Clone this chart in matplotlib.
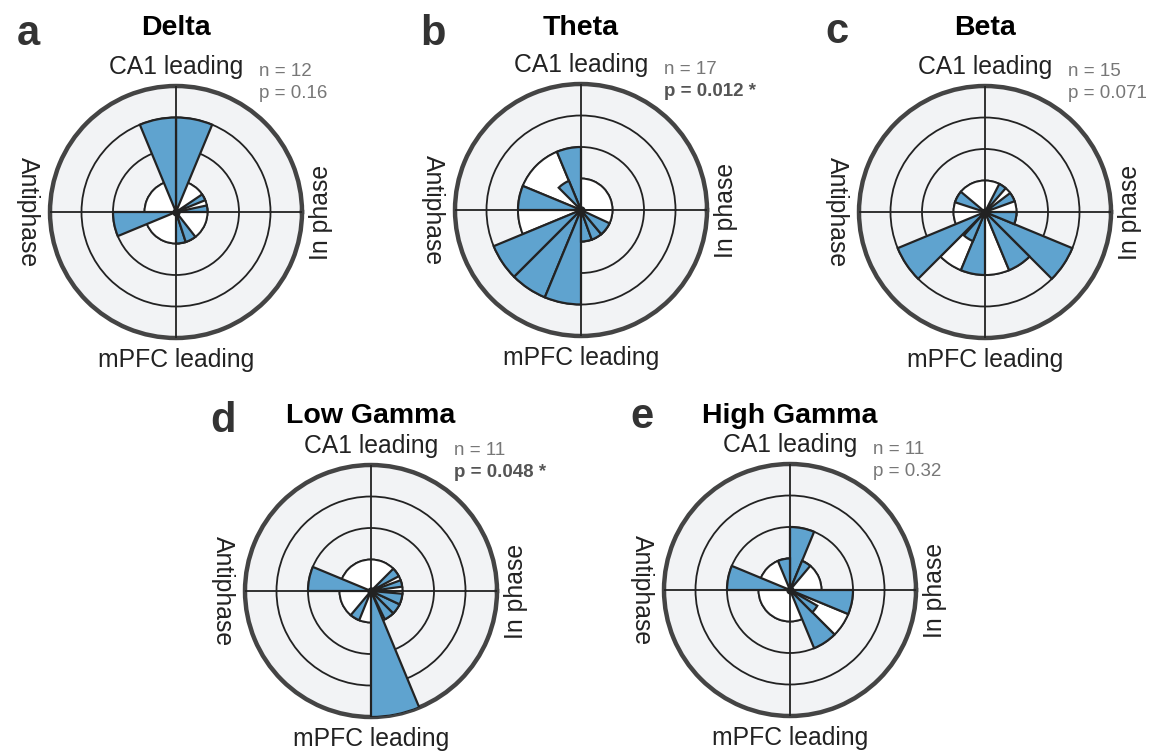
import numpy as np
import matplotlib.pyplot as plt

plt.rcParams['font.family'] = ['Liberation Sans', 'DejaVu Sans']

# ---- data: phase bins (degrees, start/end) and counts ----
panel_names = ['Delta', 'Theta', 'Beta', 'Low Gamma', 'High Gamma']
panel_letters = ['a', 'b', 'c', 'd', 'e']
n_values = [12, 17, 15, 11, 11]
p_values = ['0.16', '0.012', '0.071', '0.048', '0.32']
p_significant = [False, True, False, True, False]

delta_start = [67.5, 90, 180, 0, 22, 270, 288]
delta_end = [90, 112.5, 202.5, 12, 34, 288, 308]
delta_count = [3, 3, 2, 1, 1, 1, 1]
delta_white = [(0, 360, 1)]

theta_start = [202.5, 225, 247.5, 157.5, 90, 112.5, 270, 290, 310]
theta_end = [225, 247.5, 270, 180, 112.5, 135, 290, 310, 335]
theta_count = [3, 3, 3, 2, 2, 1, 1, 1, 1]
theta_white = [(0, 360, 1), (112.5, 157.5, 2), (180, 202.5, 2)]

beta_start = [202.5, 315, 247.5, 292.5, 228, 337.5, 20, 49, 140]
beta_end = [225, 337.5, 270, 315, 247.5, 360, 37, 63, 162]
beta_count = [3, 3, 2, 2, 1, 1, 1, 1, 1]
beta_white = [(0, 360, 1), (225, 247.5, 2), (270, 292.5, 2)]

lowgamma_start = [270, 157.5, 230, 8, 28, 296, 315, 335]
lowgamma_end = [292.5, 180, 248, 20, 45, 315, 335, 355]
lowgamma_count = [4, 2, 1, 1, 1, 1, 1, 1]
lowgamma_white = [(0, 360, 1)]

highgamma_start = [157.5, 67.5, 337.5, 292.5, 90, 50, 315]
highgamma_end = [180, 90, 360, 315, 112.5, 67.5, 330]
highgamma_count = [2, 2, 2, 2, 1, 1, 1]
highgamma_white = [(0, 360, 1), (315, 337.5, 2)]

blue_bins = [
    (delta_start, delta_end, delta_count),
    (theta_start, theta_end, theta_count),
    (beta_start, beta_end, beta_count),
    (lowgamma_start, lowgamma_end, lowgamma_count),
    (highgamma_start, highgamma_end, highgamma_count),
]
white_bins = [delta_white, theta_white, beta_white, lowgamma_white, highgamma_white]

# ---- layout (pixels) ----
W, H = 1153, 755
centers = [(176, 212), (581, 210), (985, 212), (371, 591), (790, 590)]
title_base = [35, 35, 35, 423, 423]
letter_base = [45, 45, 43, 432, 428]
R = 126

BLUE = '#5fa3cf'
EDGE = '#232323'
BG = '#f2f3f5'

fig = plt.figure(figsize=(W / 100, H / 100), dpi=100)


def fx(x):
    return x / W


def fy(y):
    return 1 - y / H


for i in range(5):
    cx, cy = centers[i]
    ax = fig.add_axes([fx(cx - R), fy(cy + R), 2 * R / W, 2 * R / H], projection='polar')
    ax.set_facecolor(BG)
    ax.set_ylim(0, 4)
    ax.set_rgrids([1, 2, 3], labels=[])
    ax.set_thetagrids([0, 90, 180, 270], labels=[])
    ax.xaxis.grid(False)
    ax.yaxis.grid(True, color='#222222', linewidth=1.3)
    ax.set_axisbelow(True)
    ax.spines['polar'].set_linewidth(3.2)
    ax.spines['polar'].set_color('#444444')
    ax.tick_params(length=0)

    for lo, hi, r in white_bins[i]:
        w = np.deg2rad(hi - lo)
        ax.bar(np.deg2rad((lo + hi) / 2), r, width=w, bottom=0, color='white',
               edgecolor=EDGE, linewidth=1.4, zorder=2)

    s, e, c = blue_bins[i]
    s = np.array(s)
    e = np.array(e)
    ax.bar(np.deg2rad((s + e) / 2), c, width=np.deg2rad(e - s), bottom=0,
           color=BLUE, edgecolor=EDGE, linewidth=1.6, zorder=3)

    # spokes
    for t in [0, 90, 180, 270]:
        ax.plot([np.deg2rad(t)] * 2, [0, 4], color='#222222', lw=1.3, zorder=4)
    ax.plot([0], [0], 'o', color='#222222', ms=5, zorder=5)

    # texts
    fig.text(fx(cx - 148), fy(letter_base[i]), panel_letters[i], fontsize=30,
             fontweight='bold', color='#333333', ha='center', va='baseline')
    fig.text(fx(cx), fy(title_base[i]), panel_names[i], fontsize=20.5,
             fontweight='bold', color='black', ha='center', va='baseline')
    fig.text(fx(cx), fy(cy - 138), 'CA1 leading', fontsize=17.8, color='#222222',
             ha='center', va='baseline')
    fig.text(fx(cx), fy(cy + 155), 'mPFC leading', fontsize=17.8, color='#222222',
             ha='center', va='baseline')
    fig.text(fx(cx - 148), fy(cy), 'Antiphase', fontsize=17.8, color='#222222',
             ha='center', va='center', rotation=-90)
    fig.text(fx(cx + 145), fy(cy), 'In phase', fontsize=17.8, color='#222222',
             ha='center', va='center', rotation=90)
    fig.text(fx(cx + 83), fy(cy - 136), 'n = %d' % n_values[i], fontsize=13.5,
             color='#777777', ha='left', va='baseline')
    if p_significant[i]:
        fig.text(fx(cx + 83), fy(cy - 114), 'p = %s *' % p_values[i], fontsize=13.5,
                 color='#555555', fontweight='bold', ha='left', va='baseline')
    else:
        fig.text(fx(cx + 83), fy(cy - 114), 'p = %s' % p_values[i], fontsize=13.5,
                 color='#777777', ha='left', va='baseline')

fig.savefig('out.png', dpi=100, facecolor='white')
